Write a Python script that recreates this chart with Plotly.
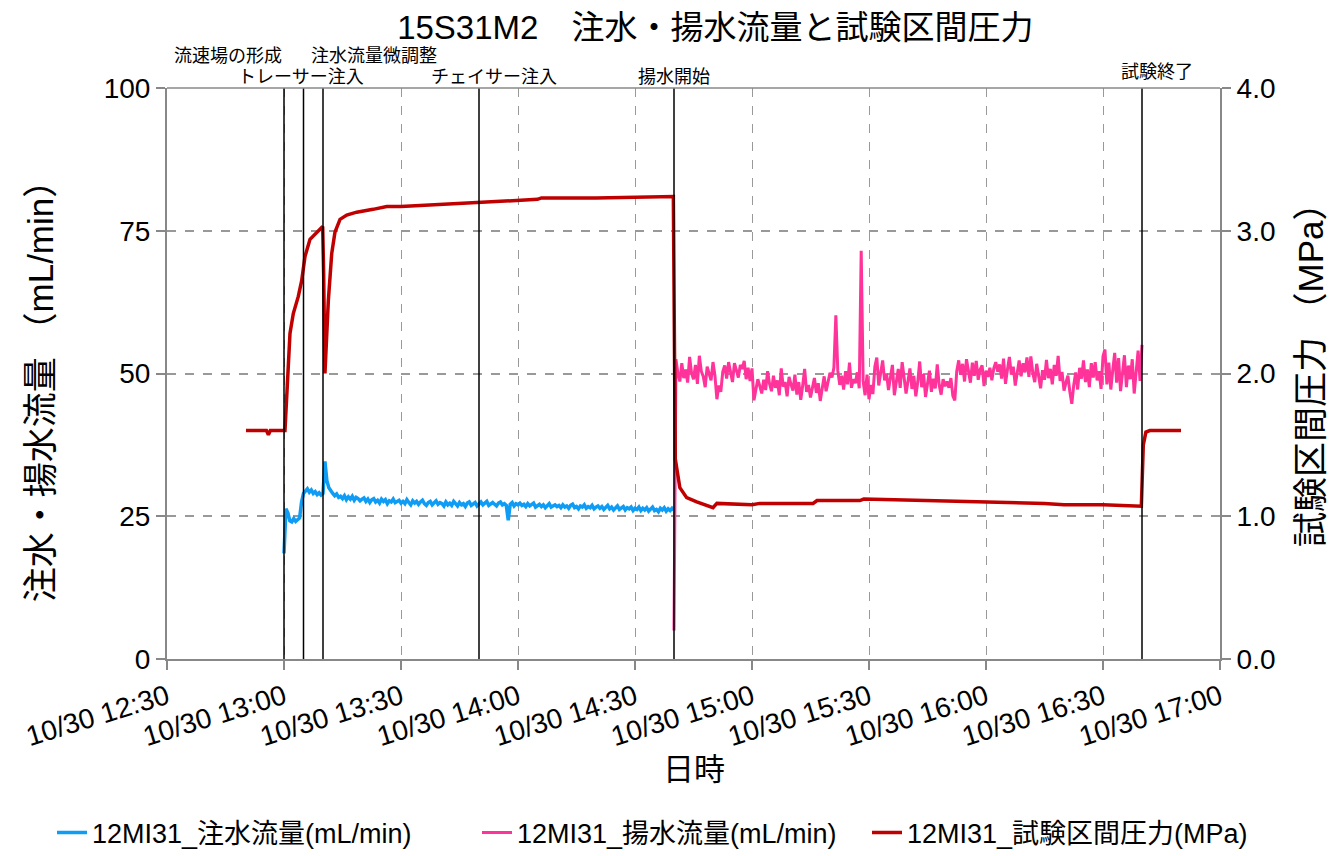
import pandas as pd
import plotly.graph_objects as go

DAY = "2015-10-30"
FONT = "Liberation Sans, Arial, Noto Sans CJK JP, sans-serif"

# ---- event markers -------------------------------------------------------
EVENT_TIMES = ["13:00:00", "13:05:00", "13:10:00", "13:50:00", "14:40:00", "16:40:00"]
EVENT_LABELS = ["流速場の形成", "トレーサー注入", "注水流量微調整", "チェイサー注入", "揚水開始", "試験終了"]

# ---- injection flow (mL/min), 30 s samples from 13:00:00 -----------------
INJ_START = "13:00:00"
INJ_FLOW = [
    18.5, 26.3, 25.6, 24.2, 24.0, 24.6, 24.1, 24.5, 24.7, 27.5,
    29.0, 29.4, 29.8, 29.2, 29.6, 29.0, 29.3, 28.8, 29.1, 28.7,
    29.0, 34.6, 31.2, 30.0, 29.4, 29.0, 28.6, 28.9, 28.3, 28.5,
    28.1, 28.6, 27.9, 28.4, 28.0, 28.5, 27.8, 28.3, 28.1, 27.7, 28.0,
    28.2, 27.6, 28.0, 27.4, 27.9, 28.1, 27.5, 27.8, 27.3, 28.0,
    27.6, 27.9, 27.2, 27.7, 27.5, 28.0, 27.4, 27.6, 27.8, 27.3,
    27.6, 27.2, 27.9, 27.4, 27.0, 27.7, 27.3, 27.6, 27.1, 27.5,
    27.8, 27.2, 26.9, 27.4, 27.6, 27.0, 27.3, 27.7, 27.1, 27.4,
    27.2, 26.8, 27.5, 27.0, 27.3, 26.9, 27.6, 27.1, 26.8, 27.4,
    27.0, 27.2, 26.7, 27.3, 27.5, 26.9, 27.1, 27.4, 26.8, 27.2,
    27.5, 27.0, 27.3, 27.6, 26.9, 27.2, 27.4, 27.1, 26.8, 27.3,
    27.5, 27.0, 27.2, 26.9, 24.3, 27.1, 27.4, 26.8, 27.2, 27.0,
    27.3, 26.9, 27.1, 26.7, 27.2, 26.8, 27.0, 27.3, 26.6, 26.9,
    27.1, 26.7, 27.0, 26.5, 26.9, 27.2, 26.6, 26.8, 27.0, 26.7,
    26.9, 26.5, 27.0, 26.6, 26.8, 26.4, 26.9, 27.1, 26.5, 26.7,
    26.3, 26.8, 26.6, 27.0, 26.4, 26.7, 26.5, 26.9, 26.3, 26.6,
    26.8, 26.4, 26.7, 26.2, 26.5, 26.9, 26.3, 26.6, 26.1, 26.5,
    26.8, 26.2, 26.4, 26.7, 26.1, 26.5, 26.3, 26.6, 26.0, 26.4,
    26.2, 26.6, 26.0, 26.4, 26.1, 26.5, 25.9, 26.3, 26.6, 26.0,
    26.2, 25.8, 26.4, 26.1, 26.5, 25.9, 26.3, 26.0, 26.4, 26.1,
]

# ---- pumping flow (mL/min), 30 s samples from 14:40:00 -------------------
PUMP_START = "14:40:00"
PUMP_FLOW = [
    5.0,
    52.5, 50.0, 48.6, 51.8, 49.2, 50.7, 48.4, 52.9, 50.1, 49.0,
    51.5, 48.2, 53.1, 50.4, 49.5, 47.6, 51.2, 50.0, 48.8, 52.0,
    49.6, 45.5, 47.9, 46.8, 50.3, 51.4, 49.1, 52.0, 50.2, 48.5,
    51.8, 50.6, 49.3, 51.5, 50.8, 52.2, 49.0, 51.0, 48.7, 50.9,
    45.3, 47.2, 49.0, 47.8, 46.5, 48.9, 47.1, 50.4, 48.2, 46.9,
    49.6, 47.5, 48.8, 46.2, 50.9, 47.7, 48.5, 46.0, 49.4, 48.1,
    47.0, 49.8, 46.3, 48.5, 45.4, 47.9, 50.8, 46.8, 48.0, 45.8,
    47.4, 49.2, 46.6, 48.3, 45.2, 47.6, 49.5, 46.9, 48.7, 50.1,
    49.3, 51.0, 60.2, 50.5, 48.0, 49.6, 47.2, 50.4, 48.1, 51.9,
    47.5, 49.0, 48.3, 50.2, 47.4, 71.5, 48.6, 46.2, 49.8, 45.5,
    48.0, 46.4, 51.2, 52.8, 47.9, 50.6, 52.3, 48.8, 50.0, 47.1,
    49.4, 51.5, 46.2, 48.9, 50.8, 47.5, 52.0, 49.3, 46.5, 48.7,
    50.9, 47.3, 49.6, 46.0, 48.5, 52.1, 47.6, 49.9, 45.9, 48.2,
    50.5, 46.8, 49.1, 47.4, 51.6, 48.0, 46.3, 49.0, 47.8, 48.6,
    47.5, 49.2, 46.1, 45.3, 50.4, 52.3, 49.8, 51.7, 48.6, 52.5,
    50.1, 48.4, 51.9, 49.6, 52.2, 48.9, 50.7, 51.4, 47.8, 50.5,
    49.4, 51.0, 48.8, 50.9, 52.0, 50.3, 51.6, 49.1, 52.6, 48.2,
    50.7, 52.9, 49.8, 51.2, 47.9, 50.6, 52.3, 49.5, 51.8, 50.2,
    52.8, 49.4, 53.0, 50.1, 48.5, 51.7, 49.9, 47.4, 50.6, 48.9,
    52.4, 49.2, 50.8, 48.1, 51.5, 49.6, 53.1, 48.7, 50.3, 47.0,
    48.4, 49.6, 46.8, 44.7, 48.0, 50.2, 47.2, 51.0, 49.1, 52.3,
    48.5, 50.7, 47.6, 51.8, 49.3, 52.0, 48.8, 50.4, 47.3, 53.0,
    54.2, 48.1, 51.9, 47.2, 50.6, 53.6, 48.4, 52.7, 46.9, 50.1,
    53.2, 47.6, 51.4, 49.0, 52.5, 46.5, 50.3, 54.0, 48.7, 55.0,
]

# ---- test-interval pressure (MPa) ----------------------------------------
PRES_TIME = [
    "12:50:15", "12:55:30", "12:56:00", "12:56:30", "13:00:15", "13:00:41",
    "13:01:32", "13:02:23", "13:03:40", "13:04:32", "13:05:23", "13:06:40",
    "13:08:23", "13:09:55", "13:10:10", "13:10:30", "13:11:22", "13:12:14",
    "13:13:04", "13:14:22", "13:16:05", "13:18:38", "13:22:50", "13:26:20",
    "13:30:00", "13:45:00", "14:00:00", "14:05:00", "14:06:00", "14:20:00",
    "14:39:50", "14:40:20", "14:41:30", "14:43:15", "14:45:50", "14:49:00",
    "14:50:00", "14:51:00", "15:00:00", "15:02:00", "15:15:40", "15:16:40",
    "15:27:40", "15:28:40", "15:45:00", "16:00:00", "16:15:00", "16:20:00",
    "16:30:00", "16:39:50", "16:40:20", "16:41:00", "16:42:00", "16:50:00",
]
PRES_MPA = [
    1.60, 1.60, 1.57, 1.60, 1.60, 1.82,
    2.28, 2.42, 2.54, 2.65, 2.82, 2.94,
    2.99, 3.03, 2.70, 2.00, 2.51, 2.84,
    2.99, 3.08, 3.11, 3.13, 3.15, 3.17,
    3.17, 3.19, 3.21, 3.22, 3.23, 3.23,
    3.24, 1.40, 1.20, 1.13, 1.10, 1.07,
    1.06, 1.09, 1.08, 1.09, 1.09, 1.11,
    1.11, 1.12, 1.11, 1.10, 1.09, 1.08,
    1.08, 1.07, 1.50, 1.59, 1.60, 1.60,
]

SERIES_NAMES = ["12MI31_注水流量(mL/min)", "12MI31_揚水流量(mL/min)", "12MI31_試験区間圧力(MPa)"]
X_RANGE = ["12:30:00", "17:00:00"]


def ts(hms):
    return pd.Timestamp(f"{DAY} {hms}")


inj_t = pd.date_range(ts(INJ_START), periods=len(INJ_FLOW), freq="30s")
pump_t = pd.date_range(ts(PUMP_START), periods=len(PUMP_FLOW), freq="30s")
pres_t = [ts(t) for t in PRES_TIME]

fig = go.Figure()
fig.add_trace(go.Scatter(x=inj_t, y=INJ_FLOW, mode="lines", name=SERIES_NAMES[0],
                         line=dict(color="#0E9CF4", width=3.5), legend="legend"))
fig.add_trace(go.Scatter(x=pump_t, y=PUMP_FLOW, mode="lines", name=SERIES_NAMES[1],
                         line=dict(color="#FF3399", width=3), legend="legend2"))
fig.add_trace(go.Scatter(x=pres_t, y=PRES_MPA, mode="lines", name=SERIES_NAMES[2],
                         line=dict(color="#C00000", width=3.5), yaxis="y2", legend="legend3"))

# vertical event lines
for t in EVENT_TIMES:
    fig.add_shape(type="line", xref="x", yref="paper", x0=ts(t), x1=ts(t), y0=0, y1=1,
                  line=dict(color="black", width=1.5), layer="above")
# frame top edge
fig.add_shape(type="line", xref="paper", yref="paper", x0=0, x1=1, y0=1, y1=1,
              line=dict(color="#888888", width=1.5))

# event labels: (row y in paper units, horizontal shift in px)
label_pos = [(1.056, -56), (1.019, -3), (1.056, 51), (1.019, 15), (1.019, 0), (1.028, 15)]
for t, text, (yy, dx) in zip(EVENT_TIMES, EVENT_LABELS, label_pos):
    fig.add_annotation(x=ts(t), y=yy, xref="x", yref="paper", text=text, showarrow=False,
                       xshift=dx, xanchor="center", yanchor="middle",
                       font=dict(size=18, color="black", family=FONT))

# axis titles
fig.add_annotation(x=-0.1206, y=0.483, xref="paper", yref="paper", text="注水・揚水流量 （mL/min）",
                   textangle=-90, showarrow=False, xanchor="center", yanchor="middle",
                   font=dict(size=35, color="black", family=FONT))
fig.add_annotation(x=1.0855, y=0.513, xref="paper", yref="paper", text="試験区間圧力 （MPa）",
                   textangle=-90, showarrow=False, xanchor="center", yanchor="middle",
                   font=dict(size=35, color="black", family=FONT))
fig.add_annotation(x=0.5, y=-0.194, xref="paper", yref="paper", text="日時",
                   showarrow=False, xanchor="center", yanchor="middle",
                   font=dict(size=31, color="black", family=FONT))

axis_common = dict(showline=True, linecolor="#888888", linewidth=2, ticks="outside",
                   ticklen=9, tickcolor="#888888", tickwidth=1.5,
                   tickfont=dict(size=28, color="black", family=FONT), zeroline=False)

legend_common = dict(orientation="h", xref="container", yref="container", y=0.027,
                     xanchor="left", yanchor="middle", itemwidth=30,
                     font=dict(size=27, color="black", family=FONT),
                     bgcolor="rgba(0,0,0,0)")

fig.update_layout(
    width=1332, height=856,
    margin=dict(l=167, r=112, t=88, b=197),
    paper_bgcolor="white", plot_bgcolor="white",
    font=dict(family=FONT, color="black"),
    title=dict(text="15S31M2　注水・揚水流量と試験区間圧力", x=0.537, xref="container",
               xanchor="center", y=0.968, yref="container", yanchor="middle",
               font=dict(size=33, color="black", family=FONT)),
    xaxis=dict(type="date", range=[ts(X_RANGE[0]), ts(X_RANGE[1])],
               tick0=ts(X_RANGE[0]), dtick=30 * 60 * 1000, tickformat="%m/%d %H:%M",
               tickangle=-17, showgrid=True, gridcolor="#999999", griddash="dash",
               gridwidth=1, **axis_common),
    yaxis=dict(range=[0, 100], dtick=25, showgrid=True, gridcolor="#999999",
               griddash="dash", gridwidth=1.5, **axis_common),
    yaxis2=dict(range=[0, 4], dtick=1, tickformat=".1f", overlaying="y", side="right",
                showgrid=False, **axis_common),
    legend=dict(x=52 / 1332, **legend_common),
    legend2=dict(x=477 / 1332, **legend_common),
    legend3=dict(x=867 / 1332, **legend_common),
    showlegend=True,
)

fig.write_html("out.html")
